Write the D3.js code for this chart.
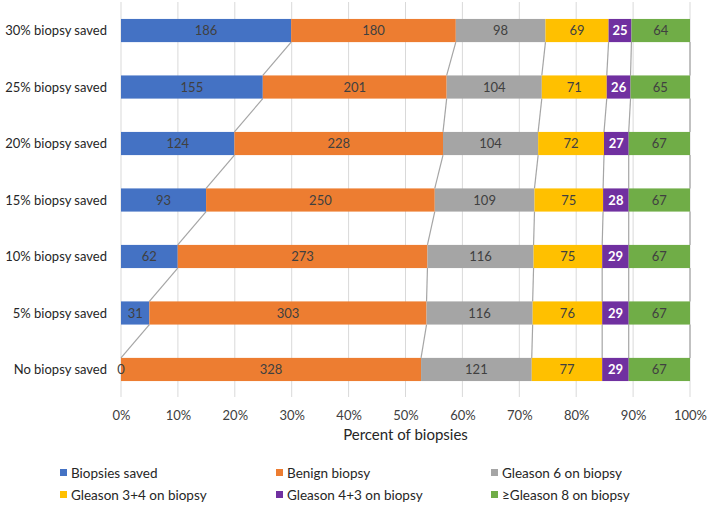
<!DOCTYPE html>
<html>
<head>
<meta charset="utf-8">
<script src="https://cdn.jsdelivr.net/npm/d3@7"></script>
<style>
  body { margin: 0; background: #fff; }
  text { font-family: Lato, "Open Sans", sans-serif; }
</style>
</head>
<body>
<div id="chart"></div>
<script>
// rows, top to bottom
const categories = ['30% biopsy saved', '25% biopsy saved', '20% biopsy saved', '15% biopsy saved',
  '10% biopsy saved', '5% biopsy saved', 'No biopsy saved'];

const seriesNames = ['Biopsies saved', 'Benign biopsy', 'Gleason 6 on biopsy',
  'Gleason 3+4 on biopsy', 'Gleason 4+3 on biopsy', '\u2265Gleason 8 on biopsy'];

const biopsiesSaved = [186, 155, 124, 93, 62, 31, 0];
const benign        = [180, 201, 228, 250, 273, 303, 328];
const gleason6      = [98, 104, 104, 109, 116, 116, 121];
const gleason34     = [69, 71, 72, 75, 75, 76, 77];
const gleason43     = [25, 26, 27, 28, 29, 29, 29];
const gleason8      = [64, 65, 67, 67, 67, 67, 67];

const xTicks = [0, 0.1, 0.2, 0.3, 0.4, 0.5, 0.6, 0.7, 0.8, 0.9, 1];
const colors = ['#4472C4', '#ED7D31', '#A5A5A5', '#FFC000', '#7030A0', '#70AD47'];

const W = 709, H = 505;
const svg = d3.select('#chart').append('svg').attr('width', W).attr('height', H);

const allSeries = [biopsiesSaved, benign, gleason6, gleason34, gleason43, gleason8];

// build stacked rows as fractions of row total
const rows = categories.map((c, i) => {
  const vals = allSeries.map(s => s[i]);
  const total = d3.sum(vals);
  let cum = 0;
  const segs = vals.map((v, k) => {
    const s = { k, v, x0: cum / total, x1: (cum + v) / total };
    cum += v;
    return s;
  });
  return { cat: c, segs };
});

const x = d3.scaleLinear().domain([0, 1]).range([121, 690]);
const y = d3.scaleBand().domain(categories).range([2, 398]).paddingInner(0.59).paddingOuter(0.3);

// gridlines
svg.append('g').selectAll('line').data(xTicks).join('line')
  .attr('x1', d => x(d)).attr('x2', d => x(d))
  .attr('y1', 2).attr('y2', 397)
  .attr('stroke', '#d9d9d9').attr('stroke-width', 1);

// series lines between adjacent bars
const sl = svg.append('g');
for (let i = 0; i < rows.length - 1; i++) {
  for (let k = 0; k < seriesNames.length; k++) {
    sl.append('line')
      .attr('x1', x(rows[i].segs[k].x1)).attr('y1', y(rows[i].cat) + y.bandwidth())
      .attr('x2', x(rows[i + 1].segs[k].x1)).attr('y2', y(rows[i + 1].cat))
      .attr('stroke', '#a5a5a5').attr('stroke-width', 1.2);
  }
}

// bars
const rowG = svg.append('g').selectAll('g').data(rows).join('g')
  .attr('transform', d => `translate(0,${y(d.cat)})`);

rowG.selectAll('rect').data(d => d.segs).join('rect')
  .attr('x', d => x(d.x0))
  .attr('width', d => x(d.x1) - x(d.x0))
  .attr('height', y.bandwidth())
  .attr('fill', d => colors[d.k]);

rowG.selectAll('text').data(d => d.segs).join('text')
  .attr('x', d => (x(d.x0) + x(d.x1)) / 2)
  .attr('y', y.bandwidth() / 2)
  .attr('dy', '0.35em')
  .attr('text-anchor', 'middle')
  .attr('font-size', 13)
  .attr('font-weight', d => d.k === 4 ? 'bold' : 'normal')
  .attr('fill', d => d.k === 4 ? '#fff' : '#404040')
  .text(d => d.v);

// category labels
svg.append('g').selectAll('text').data(categories).join('text')
  .attr('x', 107)
  .attr('y', d => y(d) + y.bandwidth() / 2)
  .attr('dy', '0.35em')
  .attr('text-anchor', 'end')
  .attr('font-size', 13)
  .attr('fill', '#262626')
  .text(d => d);

// x axis
const xAxis = svg.append('g').attr('transform', 'translate(0,407)')
  .call(d3.axisBottom(x).tickValues(xTicks).tickFormat(d3.format('.0%')).tickSize(0).tickPadding(4));
xAxis.select('.domain').remove();
xAxis.selectAll('text').attr('font-size', 13).attr('fill', '#404040')
  .style('font-family', 'Lato, "Open Sans", sans-serif');

svg.append('text')
  .attr('x', (x(0) + x(1)) / 2).attr('y', 435).attr('dy', '0.35em')
  .attr('text-anchor', 'middle').attr('font-size', 15).attr('fill', '#262626')
  .text('Percent of biopsies');

// legend
const legX = [60, 276, 491];
const legY = [473, 495];
const leg = svg.append('g').selectAll('g').data(seriesNames).join('g')
  .attr('transform', (d, i) => `translate(${legX[i % 3]},${legY[Math.floor(i / 3)]})`);
leg.append('rect').attr('x', 0).attr('y', -4).attr('width', 7).attr('height', 7)
  .attr('fill', (d, i) => colors[i]);
leg.append('text').attr('x', 11).attr('dy', '0.35em')
  .attr('font-size', 13.5).attr('fill', '#262626')
  .text(d => d);
</script>
</body>
</html>
